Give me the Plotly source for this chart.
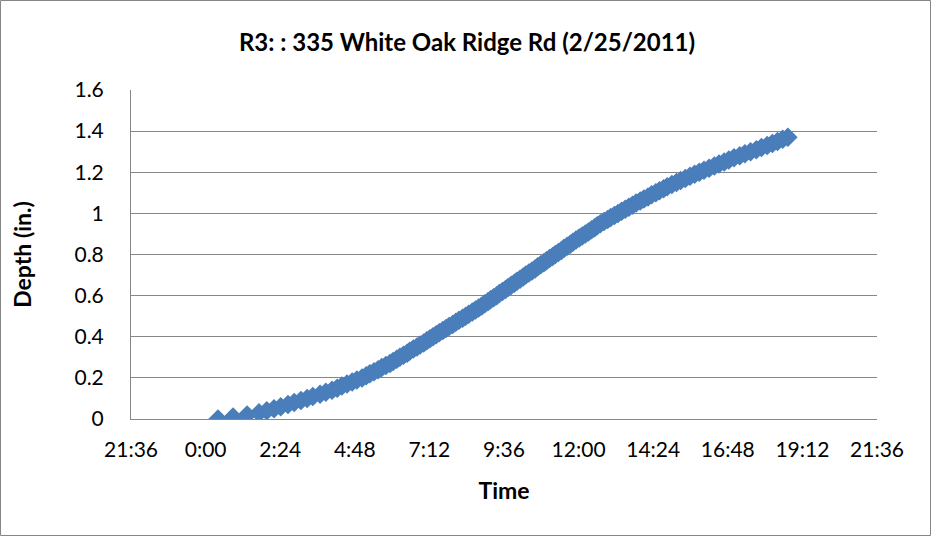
import plotly.graph_objects as go
from datetime import datetime, timedelta

# Minutes after midnight 2/25/2011 at which each 0.01 in. of depth was reached
time_minutes = [
    24, 53, 80, 103, 118, 132, 145, 159, 171, 184,
    196, 207, 221, 232, 244, 254, 263, 273, 283, 292,
    302, 310, 317, 325, 333, 340, 348, 356, 362, 369,
    375, 382, 389, 394, 401, 408, 414, 421, 427, 433,
    439, 445, 451, 458, 464, 470, 477, 483, 489, 496,
    502, 508, 515, 521, 527, 533, 539, 545, 550, 556,
    562, 567, 573, 579, 584, 590, 596, 601, 607, 613,
    618, 624, 630, 636, 641, 647, 653, 658, 664, 670,
    675, 681, 687, 692, 698, 704, 709, 715, 721, 727,
    733, 739, 745, 751, 756, 762, 769, 776, 782, 789,
    796, 803, 810, 817, 824, 831, 839, 846, 854, 861,
    869, 876, 884, 891, 900, 909, 917, 926, 935, 944,
    953, 962, 972, 982, 991, 1001, 1010, 1020, 1031, 1041,
    1052, 1063, 1073, 1084, 1094, 1104, 1114, 1124,
]
depth_in = [
    0.00, 0.01, 0.02, 0.03, 0.04, 0.05, 0.06, 0.07, 0.08, 0.09,
    0.10, 0.11, 0.12, 0.13, 0.14, 0.15, 0.16, 0.17, 0.18, 0.19,
    0.20, 0.21, 0.22, 0.23, 0.24, 0.25, 0.26, 0.27, 0.28, 0.29,
    0.30, 0.31, 0.32, 0.33, 0.34, 0.35, 0.36, 0.37, 0.38, 0.39,
    0.40, 0.41, 0.42, 0.43, 0.44, 0.45, 0.46, 0.47, 0.48, 0.49,
    0.50, 0.51, 0.52, 0.53, 0.54, 0.55, 0.56, 0.57, 0.58, 0.59,
    0.60, 0.61, 0.62, 0.63, 0.64, 0.65, 0.66, 0.67, 0.68, 0.69,
    0.70, 0.71, 0.72, 0.73, 0.74, 0.75, 0.76, 0.77, 0.78, 0.79,
    0.80, 0.81, 0.82, 0.83, 0.84, 0.85, 0.86, 0.87, 0.88, 0.89,
    0.90, 0.91, 0.92, 0.93, 0.94, 0.95, 0.96, 0.97, 0.98, 0.99,
    1.00, 1.01, 1.02, 1.03, 1.04, 1.05, 1.06, 1.07, 1.08, 1.09,
    1.10, 1.11, 1.12, 1.13, 1.14, 1.15, 1.16, 1.17, 1.18, 1.19,
    1.20, 1.21, 1.22, 1.23, 1.24, 1.25, 1.26, 1.27, 1.28, 1.29,
    1.30, 1.31, 1.32, 1.33, 1.34, 1.35, 1.36, 1.37,
]

x_tick_vals = [
    "2011-02-24 21:36", "2011-02-25 00:00", "2011-02-25 02:24", "2011-02-25 04:48",
    "2011-02-25 07:12", "2011-02-25 09:36", "2011-02-25 12:00", "2011-02-25 14:24",
    "2011-02-25 16:48", "2011-02-25 19:12", "2011-02-25 21:36",
]
x_tick_text = ["21:36", "0:00", "2:24", "4:48", "7:12", "9:36", "12:00",
               "14:24", "16:48", "19:12", "21:36"]
y_tick_vals = [0, 0.2, 0.4, 0.6, 0.8, 1.0, 1.2, 1.4, 1.6]
y_tick_text = ["0", "0.2", "0.4", "0.6", "0.8", "1", "1.2", "1.4", "1.6"]

base = datetime(2011, 2, 25)
times = [base + timedelta(minutes=m) for m in time_minutes]

W, H = 932, 537
ML, MR, MT, MB = 131, 55, 90, 118
PW, PH = W - ML - MR, H - MT - MB

fig = go.Figure()
fig.add_trace(go.Scatter(
    x=times, y=depth_in, mode="markers",
    marker=dict(symbol="diamond", size=15, color="#4A7EBB", line=dict(width=0)),
    showlegend=False,
))

font_family = "Lato, 'Open Sans', sans-serif"
fig.update_layout(
    width=W, height=H,
    margin=dict(l=ML, r=MR, t=MT, b=MB),
    paper_bgcolor="white", plot_bgcolor="white",
    font=dict(family=font_family, color="#000000", size=21),
    title=dict(text="<b>R3: : 335 White Oak Ridge Rd (2/25/2011)</b>",
               x=467 / W, xanchor="center", y=1 - 43 / H, yanchor="middle",
               font=dict(size=24, family=font_family, color="#000000")),
    xaxis=dict(
        type="date",
        range=["2011-02-24 21:36", "2011-02-25 21:36"],
        tickvals=x_tick_vals, ticktext=x_tick_text,
        showgrid=False, zeroline=False,
        showline=True, linecolor="#868686", linewidth=1,
        ticks="", ticklabelstandoff=12,
        tickfont=dict(size=21),
        title=dict(text="<b>Time</b>", font=dict(size=23), standoff=22),
    ),
    yaxis=dict(
        range=[0, 1.6],
        tickvals=y_tick_vals, ticktext=y_tick_text,
        showgrid=True, gridcolor="#868686", gridwidth=1,
        zeroline=False,
        showline=True, linecolor="#868686", linewidth=1,
        ticks="", ticklabelstandoff=22,
        tickfont=dict(size=21),
        title=dict(text="<b>Depth (in.)</b>", font=dict(size=23), standoff=36),
    ),
)

# Chart-area border
fig.add_shape(type="rect", xref="paper", yref="paper",
              x0=(0.5 - ML) / PW, x1=(W - 1.5 - ML) / PW,
              y0=-(H - 1.5 - (MT + PH)) / PH, y1=1 + (MT - 0.5) / PH,
              line=dict(color="#868686", width=1), fillcolor="rgba(0,0,0,0)",
              layer="below")

fig.write_html("out.html", config={"displayModeBar": False},
               post_script="document.body.style.margin='0';")
